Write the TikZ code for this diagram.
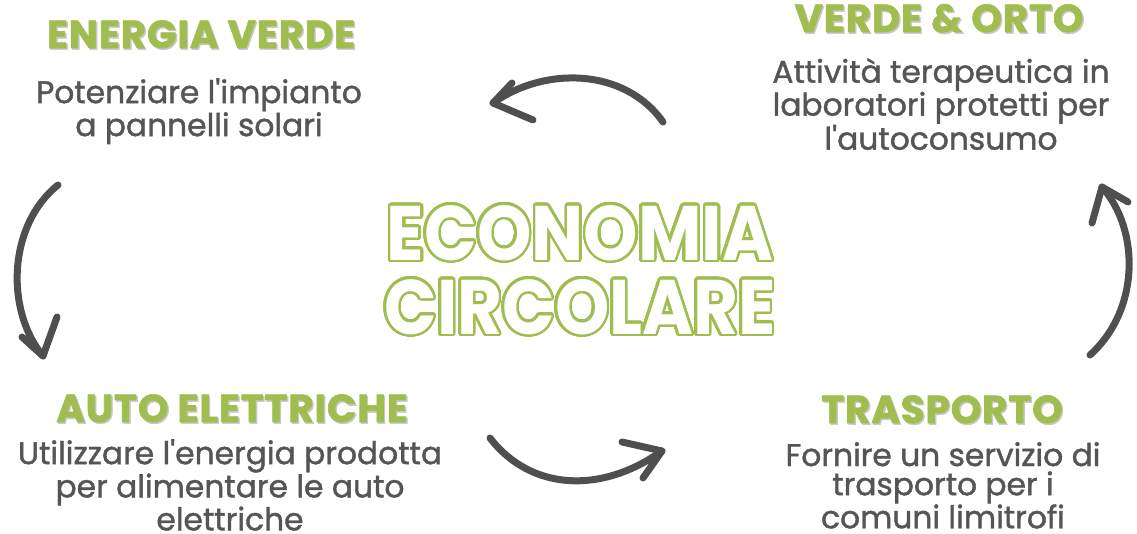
\documentclass[tikz,border=0pt]{standalone}
\usepackage{fontspec}
\setmainfont{Poppins}
\newfontfamily\bodyfont{Poppins}[FakeBold=1.3]
\newfontfamily\titlefont{Poppins}[UprightFont=*-Bold, UprightFeatures={FakeBold=1.6}, LetterSpace=2]
\newfontfamily\bigfont{Poppins}[UprightFont=*-Bold]
\usepackage{contour}
\contourlength{2.5pt}
\contournumber{48}
\definecolor{vgreen}{HTML}{A0BE50}
\definecolor{tgray}{HTML}{555555}
\definecolor{agray}{HTML}{4F4F4F}
\newcommand\shtitle[1]{\makebox[0pt][l]{\hspace{1.4pt}\raisebox{-1.6pt}{\color{black!22}#1}}#1}
\newcommand\q{\textquotesingle}
\tikzset{
  ttl/.style={anchor=base, inner sep=0pt, text=vgreen,
    font=\fontsize{39}{42}\titlefont},
  body/.style={anchor=north, inner sep=0pt, align=center, text=tgray,
    font=\fontsize{31.3}{29.2}\bodyfont},
  arr/.style={draw=agray, line width=7pt, line cap=round, line join=round},
  big/.style={inner sep=0pt, anchor=north, font=\bigfont}
}
\begin{document}
\begin{tikzpicture}[x=1pt,y=-1pt]
\useasboundingbox (0,0) rectangle (1137,533);

% titles
\node[ttl] (tEV) at (201,48) {\shtitle{ENERGIA VERDE}};
\node[ttl] (tVO) at (939,32) {\shtitle{VERDE \& ORTO}};
\node[ttl] (tAE) at (232,422) {\shtitle{AUTO ELETTRICHE}};
\node[ttl] (tTR) at (942,423) {\shtitle{TRASPORTO}};

% bodies
\node[body] (bEV) at (199,78) {Potenziare l\q impianto\\a pannelli solari};
\node[body] (bVO) at (941,58) {Attività terapeutica in\\laboratori protetti per\\l\q autoconsumo};
\node[body] (bAE) at (230,439) {Utilizzare l\q energia prodotta\\per alimentare le auto\\elettriche};
\node[body] (bTR) at (943,442) {Fornire un servizio di\\trasporto per i\\comuni limitrofi};

% centre
\node[big] (c1) at (580,205) {\color{white}\contour{vgreen}{\resizebox{386pt}{55pt}{ECONOMIA}}};
\node[big] (c2) at (580,279) {\color{white}\contour{vgreen}{\resizebox{391pt}{55pt}{CIRCOLARE}}};

% arrows
\coordinate (a1s) at (663,122); \coordinate (a1t) at (493,103);
\coordinate (a1b1) at (512,83); \coordinate (a1b2) at (533,120);
\draw[arr] (a1s) .. controls (625,68) and (545,66) .. (a1t);
\draw[arr] (a1b1) -- (a1t) -- (a1b2);

\coordinate (a2s) at (58,185); \coordinate (a2t) at (43,356);
\coordinate (a2b1) at (22,337); \coordinate (a2b2) at (57,317);
\draw[arr] (a2s) .. controls (8,225) and (5,310) .. (a2t);
\draw[arr] (a2b1) -- (a2t) -- (a2b2);

\coordinate (a3s) at (1090,355); \coordinate (a3t) at (1102,187);
\coordinate (a3b1) at (1092,223); \coordinate (a3b2) at (1128,202);
\draw[arr] (a3s) .. controls (1140,310) and (1140,230) .. (a3t);
\draw[arr] (a3b1) -- (a3t) -- (a3b2);

\coordinate (a4s) at (490,438); \coordinate (a4t) at (662,451);
\coordinate (a4b1) at (622,442); \coordinate (a4b2) at (643,478);
\draw[arr] (a4s) .. controls (530,490) and (600,495) .. (a4t);
\draw[arr] (a4b1) -- (a4t) -- (a4b2);
\end{tikzpicture}
\end{document}
